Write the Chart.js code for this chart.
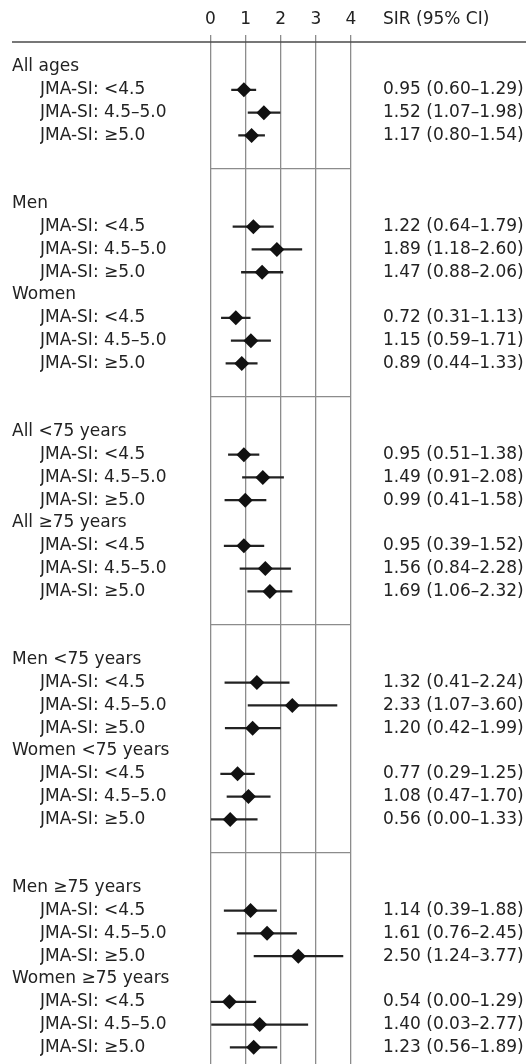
<!DOCTYPE html>
<html>
<head>
<meta charset="utf-8">
<script src="https://cdn.jsdelivr.net/npm/chart.js@4"></script>
<style>
  html, body { margin: 0; padding: 0; background: #fff; }
</style>
</head>
<body>
<canvas id="forestPlot" width="526" height="1064"></canvas>
<script>
const groups = ["All ages", "Men", "Women", "All <75 years", "All ≥75 years",
  "Men <75 years", "Women <75 years", "Men ≥75 years", "Women ≥75 years"];
const levels = ["JMA-SI: <4.5", "JMA-SI: 4.5–5.0", "JMA-SI: ≥5.0"];
const panels = [[0], [1, 2], [3, 4], [5, 6], [7, 8]];
const xTicks = [0, 1, 2, 3, 4];

const sir = [0.95, 1.52, 1.17, 1.22, 1.89, 1.47, 0.72, 1.15, 0.89,
  0.95, 1.49, 0.99, 0.95, 1.56, 1.69, 1.32, 2.33, 1.20,
  0.77, 1.08, 0.56, 1.14, 1.61, 2.50, 0.54, 1.40, 1.23];
const lower = [0.60, 1.07, 0.80, 0.64, 1.18, 0.88, 0.31, 0.59, 0.44,
  0.51, 0.91, 0.41, 0.39, 0.84, 1.06, 0.41, 1.07, 0.42,
  0.29, 0.47, 0.00, 0.39, 0.76, 1.24, 0.00, 0.03, 0.56];
const upper = [1.29, 1.98, 1.54, 1.79, 2.60, 2.06, 1.13, 1.71, 1.33,
  1.38, 2.08, 1.58, 1.52, 2.28, 2.32, 2.24, 3.60, 1.99,
  1.25, 1.70, 1.33, 1.88, 2.45, 3.77, 1.29, 2.77, 1.89];

// row layout: header row, then one row per level, two blank rows between panels
const headerRows = [];
const itemRows = [];
const separators = [];
let row = 0;
panels.forEach((panel, p) => {
  if (p > 0) {
    separators.push(row + 0.45);
    row += 2;
  }
  panel.forEach((g) => {
    headerRows.push({ row: row, label: groups[g] });
    row++;
    levels.forEach((level, k) => {
      itemRows.push({ row: row, label: level, i: g * 3 + k });
      row++;
    });
  });
});

const textColor = "#222";
const gridColor = "#8c8c8c";
const font = { family: "'DejaVu Sans'", size: 17 };

function labelAt(rows, value) {
  const found = rows.find((r) => r.row === value);
  return found ? found.label : "";
}

function rowScale(position, weight, rows, width, padding, crossAlign) {
  return {
    type: "linear",
    position: position,
    weight: weight,
    reverse: true,
    min: -1.1,
    max: 43.73,
    offset: false,
    grid: { display: false, drawTicks: false },
    border: { display: false },
    ticks: {
      display: rows.length > 0,
      autoSkip: false,
      padding: padding,
      crossAlign: crossAlign,
      color: textColor,
      font: font,
      callback: (value) => labelAt(rows, value),
    },
    afterBuildTicks: (scale) => {
      scale.ticks = rows.map((r) => ({ value: r.row }));
    },
    afterFit: (scale) => {
      scale.width = width;
      scale.paddingTop = 0;
      scale.paddingBottom = 0;
    },
  };
}

const ciRows = itemRows.map((r) => ({
  row: r.row,
  label: `${sir[r.i].toFixed(2)} (${lower[r.i].toFixed(2)}–${upper[r.i].toFixed(2)})`,
}));

// group names hang out to the left of their narrow axis (mirror avoids the label clip)
const groupScale = rowScale("left", 2, headerRows, 28, -28, "near");
groupScale.ticks.mirror = true;

const separatorScale = rowScale("right", 0, [], 0, 0, "near");
separatorScale.grid = { display: true, drawTicks: false, color: gridColor, lineWidth: 1.3 };
separatorScale.afterBuildTicks = (scale) => {
  scale.ticks = separators.map((s) => ({ value: s }));
};

const topLine = {
  id: "topLine",
  afterDraw(chart) {
    const { ctx, chartArea } = chart;
    const xScale = chart.scales.x;
    ctx.save();
    ctx.strokeStyle = "#4a4a4a";
    ctx.lineWidth = 1.6;
    ctx.beginPath();
    ctx.moveTo(12, chartArea.top);
    ctx.lineTo(chart.width, chartArea.top);
    ctx.stroke();
    ctx.fillStyle = textColor;
    ctx.font = "17px 'DejaVu Sans'";
    ctx.textBaseline = "middle";
    ctx.textAlign = "left";
    ctx.fillText("SIR (95% CI)", chartArea.right + 32, xScale.bottom - 7 - 5.5 - 10.2);
    ctx.restore();
  },
};

new Chart(document.getElementById("forestPlot"), {
  type: "bar",
  data: {
    datasets: [
      {
        type: "scatter",
        data: itemRows.map((r) => ({ x: sir[r.i], y: r.row })),
        xAxisID: "x",
        yAxisID: "yLevel",
        pointStyle: "rectRot",
        pointRadius: 7.5,
        pointBackgroundColor: "#111",
        pointBorderWidth: 0,
        showLine: false,
        clip: false,
        order: 0,
      },
      {
        type: "bar",
        indexAxis: "y",
        data: itemRows.map((r) => ({ y: r.row, x: [lower[r.i], upper[r.i]] })),
        xAxisID: "x",
        yAxisID: "yLevel",
        barThickness: 1.6,
        backgroundColor: "#222",
        borderWidth: 0,
        order: 1,
      },
    ],
  },
  options: {
    responsive: false,
    animation: false,
    layout: { autoPadding: false, padding: { left: 12, top: 3.6, right: 0, bottom: 0 } },
    plugins: { legend: { display: false }, tooltip: { enabled: false } },
    scales: {
      x: {
        type: "linear",
        position: "top",
        offset: false,
        min: xTicks[0],
        max: xTicks[xTicks.length - 1],
        afterBuildTicks: (scale) => {
          scale.ticks = xTicks.map((v) => ({ value: v }));
        },
        grid: { offset: false, color: gridColor, lineWidth: 1.3, tickLength: 7 },
        border: { display: false },
        ticks: { color: textColor, font: font, padding: 5.5 },
      },
      yGroup: groupScale,
      yLevel: rowScale("left", 1, itemRows, 170.5, 0, "far"),
      yCI: rowScale("right", 2, ciRows, 175, 32, "near"),
      ySep: separatorScale,
    },
  },
  plugins: [topLine],
});
</script>
</body>
</html>
